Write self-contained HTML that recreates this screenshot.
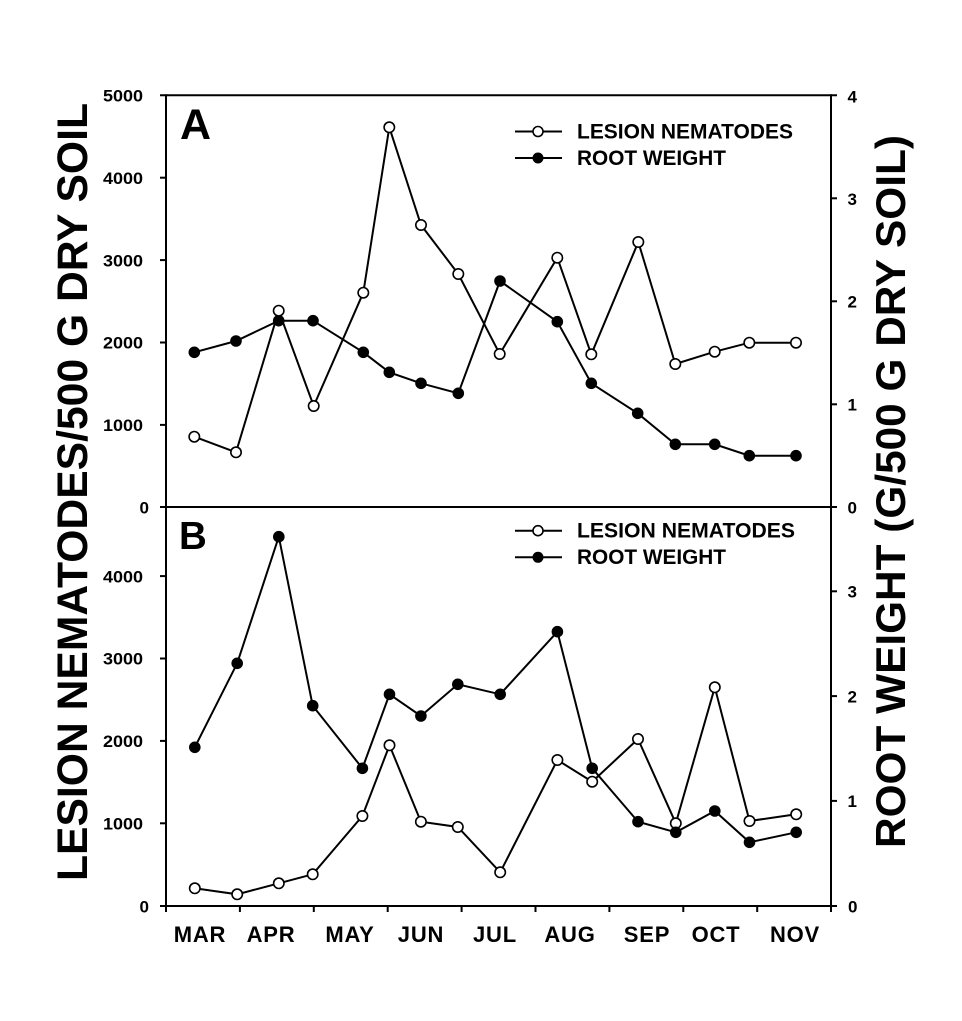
<!DOCTYPE html>
<html><head><meta charset="utf-8"><style>
html,body{margin:0;padding:0;background:#fff;}
svg{display:block;}
text{font-family:"Liberation Sans",Arial,sans-serif;font-weight:bold;fill:#000;}
</style></head><body>
<svg width="962" height="1021" viewBox="0 0 962 1021" xmlns="http://www.w3.org/2000/svg">
<rect width="962" height="1021" fill="#fff"/>
<g stroke="#000" stroke-width="2" fill="none">
<line x1="160" y1="95.3" x2="837" y2="95.3"/>
<line x1="160" y1="507" x2="837" y2="507"/>
<line x1="160" y1="906" x2="837" y2="906"/>
<line x1="166" y1="94.3" x2="166" y2="912"/>
<line x1="831" y1="94.3" x2="831" y2="912"/>
<line x1="160" y1="177.7" x2="166" y2="177.7"/>
<line x1="160" y1="260.1" x2="166" y2="260.1"/>
<line x1="160" y1="342.5" x2="166" y2="342.5"/>
<line x1="160" y1="424.9" x2="166" y2="424.9"/>
<line x1="160" y1="823.3" x2="166" y2="823.3"/>
<line x1="160" y1="740.9" x2="166" y2="740.9"/>
<line x1="160" y1="658.5" x2="166" y2="658.5"/>
<line x1="160" y1="576.1" x2="166" y2="576.1"/>
<line x1="831" y1="198.3" x2="837" y2="198.3"/>
<line x1="831" y1="301.3" x2="837" y2="301.3"/>
<line x1="831" y1="404.3" x2="837" y2="404.3"/>
<line x1="831" y1="800.9" x2="837" y2="800.9"/>
<line x1="831" y1="696.1" x2="837" y2="696.1"/>
<line x1="831" y1="591.3" x2="837" y2="591.3"/>
<line x1="239.9" y1="906" x2="239.9" y2="912"/>
<line x1="313.8" y1="906" x2="313.8" y2="912"/>
<line x1="387.7" y1="906" x2="387.7" y2="912"/>
<line x1="461.6" y1="906" x2="461.6" y2="912"/>
<line x1="535.5" y1="906" x2="535.5" y2="912"/>
<line x1="609.4" y1="906" x2="609.4" y2="912"/>
<line x1="683.3" y1="906" x2="683.3" y2="912"/>
<line x1="757.2" y1="906" x2="757.2" y2="912"/>
</g>

<g font-size="17">
<text x="103" y="101.5" textLength="40" lengthAdjust="spacingAndGlyphs">5000</text>
<text x="103" y="183.9" textLength="40" lengthAdjust="spacingAndGlyphs">4000</text>
<text x="103" y="266.3" textLength="40" lengthAdjust="spacingAndGlyphs">3000</text>
<text x="103" y="348.7" textLength="40" lengthAdjust="spacingAndGlyphs">2000</text>
<text x="103" y="431.1" textLength="40" lengthAdjust="spacingAndGlyphs">1000</text>
<text x="139.5" y="513.3">0</text>
<text x="103" y="582.3" textLength="40" lengthAdjust="spacingAndGlyphs">4000</text>
<text x="103" y="664.7" textLength="40" lengthAdjust="spacingAndGlyphs">3000</text>
<text x="103" y="747.1" textLength="40" lengthAdjust="spacingAndGlyphs">2000</text>
<text x="103" y="829.5" textLength="40" lengthAdjust="spacingAndGlyphs">1000</text>
<text x="139.5" y="912.3">0</text>
<text x="847.5" y="102.5">4</text>
<text x="847.5" y="204.8">3</text>
<text x="847.5" y="307.5">2</text>
<text x="847.5" y="410.5">1</text>
<text x="847.5" y="513.3">0</text>
<text x="847.5" y="597.5">3</text>
<text x="847.5" y="702.3">2</text>
<text x="847.5" y="807">1</text>
<text x="848" y="912.3">0</text>
</g>

<g font-size="22" text-anchor="middle" letter-spacing="0.8">
<text x="200" y="942">MAR</text>
<text x="271" y="942">APR</text>
<text x="350" y="942">MAY</text>
<text x="421" y="942">JUN</text>
<text x="495" y="942">JUL</text>
<text x="570" y="942">AUG</text>
<text x="647" y="942">SEP</text>
<text x="716" y="942">OCT</text>
<text x="795" y="942">NOV</text>
</g>

<text transform="translate(87,881) rotate(-90)" font-size="43" textLength="778" lengthAdjust="spacingAndGlyphs">LESION NEMATODES/500 G DRY SOIL</text>
<text transform="translate(905,848) rotate(-90)" font-size="42" textLength="713" lengthAdjust="spacingAndGlyphs">ROOT WEIGHT (G/500 G DRY SOIL)</text>

<text x="180" y="139" font-size="43">A</text>
<text x="179" y="549" font-size="38.5">B</text>

<g stroke="#000" stroke-width="2">
<line x1="515" y1="131.5" x2="562" y2="131.5"/>
<line x1="515" y1="158" x2="562" y2="158"/>
<line x1="515" y1="530.7" x2="562" y2="530.7"/>
<line x1="515" y1="557.3" x2="562" y2="557.3"/>
</g>
<circle cx="538" cy="131.5" r="5" fill="#fff" stroke="#000" stroke-width="1.6"/>
<circle cx="538" cy="158" r="5.5" fill="#000"/>
<circle cx="538" cy="530.7" r="5" fill="#fff" stroke="#000" stroke-width="1.6"/>
<circle cx="538" cy="557.3" r="5.5" fill="#000"/>
<g font-size="20.8">
<text x="577" y="138.5" textLength="216" lengthAdjust="spacingAndGlyphs">LESION NEMATODES</text>
<text x="577" y="165" textLength="149" lengthAdjust="spacingAndGlyphs">ROOT WEIGHT</text>
<text x="577" y="537.5" textLength="218" lengthAdjust="spacingAndGlyphs">LESION NEMATODES</text>
<text x="577" y="564.2" textLength="149" lengthAdjust="spacingAndGlyphs">ROOT WEIGHT</text>
</g>

<polyline fill="none" stroke="#000" stroke-width="2" points="194.3,436.7 236,452.3 278.7,310.7 313.7,406 363.3,292.7 389.3,127.3 421,225 458.3,274 499.7,354 557.3,257.7 591.3,354.3 638.3,242 675.3,364 714.7,351.7 749.3,342.7 796,342.7"/>
<polyline fill="none" stroke="#000" stroke-width="2" points="194.3,352.3 236,341 278.7,320.7 313,320.7 363.3,352.3 389.3,372.3 421,383.3 458.3,393.3 500,281 557.3,321.7 591.3,383.3 637.7,413.3 675.3,444.3 714.7,444.3 749.3,455.7 796,455.7"/>
<g fill="#000">
<circle cx="194.3" cy="352.3" r="5.8"/><circle cx="236" cy="341" r="5.8"/><circle cx="278.7" cy="320.7" r="5.8"/><circle cx="313" cy="320.7" r="5.8"/><circle cx="363.3" cy="352.3" r="5.8"/><circle cx="389.3" cy="372.3" r="5.8"/><circle cx="421" cy="383.3" r="5.8"/><circle cx="458.3" cy="393.3" r="5.8"/><circle cx="500" cy="281" r="5.8"/><circle cx="557.3" cy="321.7" r="5.8"/><circle cx="591.3" cy="383.3" r="5.8"/><circle cx="637.7" cy="413.3" r="5.8"/><circle cx="675.3" cy="444.3" r="5.8"/><circle cx="714.7" cy="444.3" r="5.8"/><circle cx="749.3" cy="455.7" r="5.8"/><circle cx="796" cy="455.7" r="5.8"/>
</g>
<g fill="#fff" stroke="#000" stroke-width="1.6">
<circle cx="194.3" cy="436.7" r="5.2"/><circle cx="236" cy="452.3" r="5.2"/><circle cx="278.7" cy="310.7" r="5.2"/><circle cx="313.7" cy="406" r="5.2"/><circle cx="363.3" cy="292.7" r="5.2"/><circle cx="389.3" cy="127.3" r="5.2"/><circle cx="421" cy="225" r="5.2"/><circle cx="458.3" cy="274" r="5.2"/><circle cx="499.7" cy="354" r="5.2"/><circle cx="557.3" cy="257.7" r="5.2"/><circle cx="591.3" cy="354.3" r="5.2"/><circle cx="638.3" cy="242" r="5.2"/><circle cx="675.3" cy="364" r="5.2"/><circle cx="714.7" cy="351.7" r="5.2"/><circle cx="749.3" cy="342.7" r="5.2"/><circle cx="796" cy="342.7" r="5.2"/>
</g>

<polyline fill="none" stroke="#000" stroke-width="2" points="194.8,888.3 237.2,894.3 278.8,883.3 312.7,874.3 362.4,816 389.5,745.3 420.9,821.7 457.8,827 500.2,872.3 557.4,760 592.2,781.7 638,739 675.8,823.3 714.8,687.3 749.5,821 796.2,814.3"/>
<polyline fill="none" stroke="#000" stroke-width="2" points="194.8,747.3 237.2,663.3 278.8,536.7 312.7,705.7 362.4,768.3 389.5,694.3 420.9,716 457.8,684.3 500.2,694.3 557.4,631.7 592.2,768.3 638,821.7 675.8,832.3 714.8,811 749.5,842.3 796.2,832.3"/>
<g fill="#fff" stroke="#000" stroke-width="1.6">
<circle cx="194.8" cy="888.3" r="5.2"/><circle cx="237.2" cy="894.3" r="5.2"/><circle cx="278.8" cy="883.3" r="5.2"/><circle cx="312.7" cy="874.3" r="5.2"/><circle cx="362.4" cy="816" r="5.2"/><circle cx="389.5" cy="745.3" r="5.2"/><circle cx="420.9" cy="821.7" r="5.2"/><circle cx="457.8" cy="827" r="5.2"/><circle cx="500.2" cy="872.3" r="5.2"/><circle cx="557.4" cy="760" r="5.2"/><circle cx="592.2" cy="781.7" r="5.2"/><circle cx="638" cy="739" r="5.2"/><circle cx="675.8" cy="823.3" r="5.2"/><circle cx="714.8" cy="687.3" r="5.2"/><circle cx="749.5" cy="821" r="5.2"/><circle cx="796.2" cy="814.3" r="5.2"/>
</g>
<g fill="#000">
<circle cx="194.8" cy="747.3" r="5.8"/><circle cx="237.2" cy="663.3" r="5.8"/><circle cx="278.8" cy="536.7" r="5.8"/><circle cx="312.7" cy="705.7" r="5.8"/><circle cx="362.4" cy="768.3" r="5.8"/><circle cx="389.5" cy="694.3" r="5.8"/><circle cx="420.9" cy="716" r="5.8"/><circle cx="457.8" cy="684.3" r="5.8"/><circle cx="500.2" cy="694.3" r="5.8"/><circle cx="557.4" cy="631.7" r="5.8"/><circle cx="592.2" cy="768.3" r="5.8"/><circle cx="638" cy="821.7" r="5.8"/><circle cx="675.8" cy="832.3" r="5.8"/><circle cx="714.8" cy="811" r="5.8"/><circle cx="749.5" cy="842.3" r="5.8"/><circle cx="796.2" cy="832.3" r="5.8"/>
</g>
</svg>
</body></html>
